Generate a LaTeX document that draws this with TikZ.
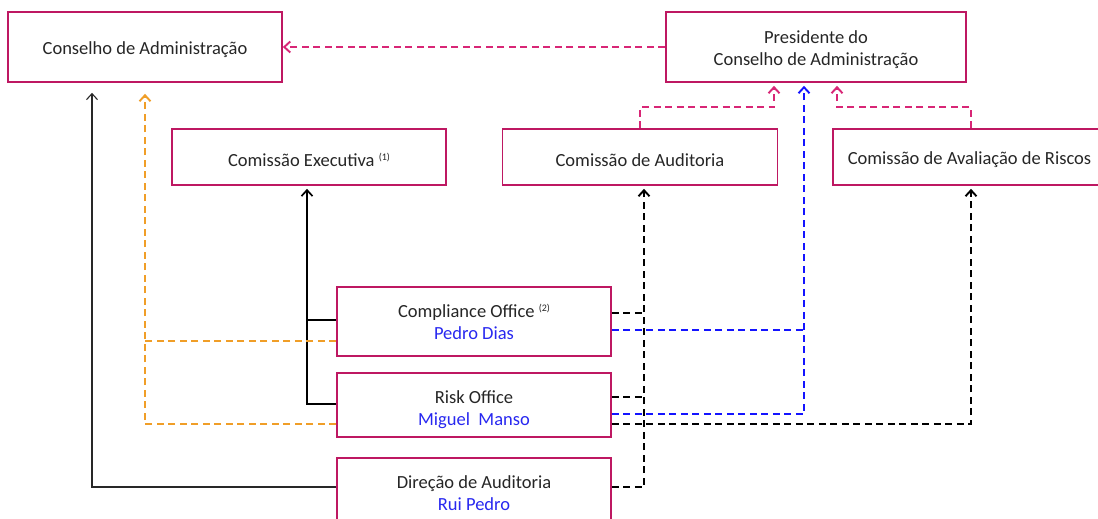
\documentclass[tikz,border=0pt]{standalone}
\usepackage{fontspec}
\setmainfont{Carlito}
\usetikzlibrary{arrows.meta,calc}
\definecolor{boxc}{RGB}{190,24,98}
\definecolor{pinkc}{RGB}{216,38,118}
\definecolor{bluec}{RGB}{20,20,255}
\definecolor{bluetext}{RGB}{40,40,240}
\definecolor{orangec}{RGB}{240,158,40}
\definecolor{txt}{RGB}{38,38,38}
\definecolor{grayc}{RGB}{40,40,40}
\tikzset{
  orgbox/.style={draw=boxc, line width=1.7pt, fill=white, rectangle, inner sep=0pt},
  boxtext/.style={align=center, text=txt, font=\fontsize{18.5}{22}\selectfont, inner sep=0pt},
  tipv/.style={-{Straight Barb[length=6pt,width=11pt]}},
  pinkd/.style={draw=pinkc, line width=1.9pt, dash pattern=on 7pt off 4.5pt},
  blued/.style={draw=bluec, line width=1.9pt, dash pattern=on 7pt off 4.5pt},
  blackd/.style={draw=black, line width=1.9pt, dash pattern=on 7pt off 4.5pt},
  oranged/.style={draw=orangec, line width=1.9pt, dash pattern=on 7pt off 4.5pt},
  solidk/.style={draw=black, line width=1.7pt},
  think/.style={draw=grayc, line width=1.1pt},
}
\newcommand{\supnote}[1]{{\fontsize{10}{10}\selectfont\raisebox{6pt}{#1}}}
\begin{document}
\begin{tikzpicture}[x=1pt,y=-1pt]
\useasboundingbox (0,0) rectangle (1098,519);
\fill[white] (0,0) rectangle (1098,519);

% boxes
\node[orgbox, minimum width=274pt, minimum height=70pt] (ca) at (145,47) {};
\node[orgbox, minimum width=300pt, minimum height=70pt] (pres) at (816,47) {};
\node[orgbox, minimum width=274pt, minimum height=56pt] (ce) at (309,157) {};
\node[orgbox, minimum width=275pt, minimum height=56pt] (cau) at (640,157) {};
\node[orgbox, minimum width=276pt, minimum height=56pt] (car) at (971,157) {};
\node[orgbox, minimum width=274pt, minimum height=69pt] (co) at (474,321.5) {};
\node[orgbox, minimum width=274pt, minimum height=64pt] (ro) at (474,405) {};
\node[orgbox, minimum width=274pt, minimum height=64pt] (da) at (474,490) {};

% box texts
\node[boxtext] (ca-t) at ($(ca)+(0,3)$) {Conselho de Administração};
\node[boxtext] (pres-t) at ($(pres)+(0,2.5)$) {Presidente do\\Conselho de Administração};
\node[boxtext] (ce-t) at ($(ce)+(0,3)$) {Comissão Executiva \supnote{(1)}};
\node[boxtext] (cau-t) at ($(cau)+(0,3)$) {Comissão de Auditoria};
\node[boxtext] (car-t) at ($(car)+(-1.5,3)$) {Comissão de Avaliação de Riscos};
\node[boxtext] (co-t) at ($(co)+(0,0)$) {Compliance Office \supnote{(2)}\\\textcolor{bluetext}{Pedro Dias}};
\node[boxtext] (ro-t) at ($(ro)+(0,5)$) {Risk Office\\\textcolor{bluetext}{Miguel\ \ Manso}};
\node[boxtext] (da-t) at ($(da)+(0,3)$) {Direção de Auditoria\\\textcolor{bluetext}{Rui Pedro}};

% arrow tip coordinates
\coordinate (p1) at ($(pres.south)+(-42,3)$);
\coordinate (p2) at ($(pres.south)+(-12,3)$);
\coordinate (p3) at ($(pres.south)+(21,3)$);
\coordinate (ka) at ($(cau.south)+(4,3)$);
\coordinate (kr) at ($(car.south)+(0,3)$);
\coordinate (ke) at ($(ce.south)+(-2,3)$);
\coordinate (ko) at ($(ca.south)+(0,11)$);
\coordinate (kg) at ($(ca.south)+(-53,10)$);

% side exit points
\coordinate (co-k) at ($(co.east)+(0,-8.5)$);
\coordinate (co-b) at ($(co.east)+(0,8.5)$);
\coordinate (ro-k) at ($(ro.east)+(0,-8)$);
\coordinate (ro-b) at ($(ro.east)+(0,9)$);
\coordinate (ro-r) at ($(ro.east)+(0,19)$);
\coordinate (da-k) at ($(da.east)+(0,-3)$);
\coordinate (co-s) at ($(co.west)+(0,-1.5)$);
\coordinate (co-o) at ($(co.west)+(0,19.5)$);
\coordinate (ro-s) at ($(ro.west)+(0,-1)$);
\coordinate (ro-o) at ($(ro.west)+(0,19)$);
\coordinate (da-g) at ($(da.west)+(0,-3)$);

% pink
\draw[pinkd, tipv] (pres.west) -- (ca.east);
\draw[pinkd, tipv] (cau.north) -- ++(0,-21) -| (p1);
\draw[pinkd, tipv] (car.north) -- ++(0,-21) -| (p3);

% blue
\draw[blued, tipv] (ro-b) -| (p2);
\draw[blued] (co-b) -- (co-b -| p2);

% black dashed
\draw[blackd, tipv] (da-k) -| (ka);
\draw[blackd] (co-k) -- (co-k -| ka);
\draw[blackd] (ro-k) -- (ro-k -| ka);
\draw[blackd, tipv] (ro-r) -| (kr);

% black solid
\draw[solidk, tipv] (ro-s) -| (ke);
\draw[solidk] (co-s) -- (co-s -| ke);

% orange
\draw[oranged, tipv] (ro-o) -| (ko);
\draw[oranged] (co-o) -- (co-o -| ko);

% thin gray
\draw[think, tipv] (da-g) -| (kg);
\end{tikzpicture}
\end{document}
